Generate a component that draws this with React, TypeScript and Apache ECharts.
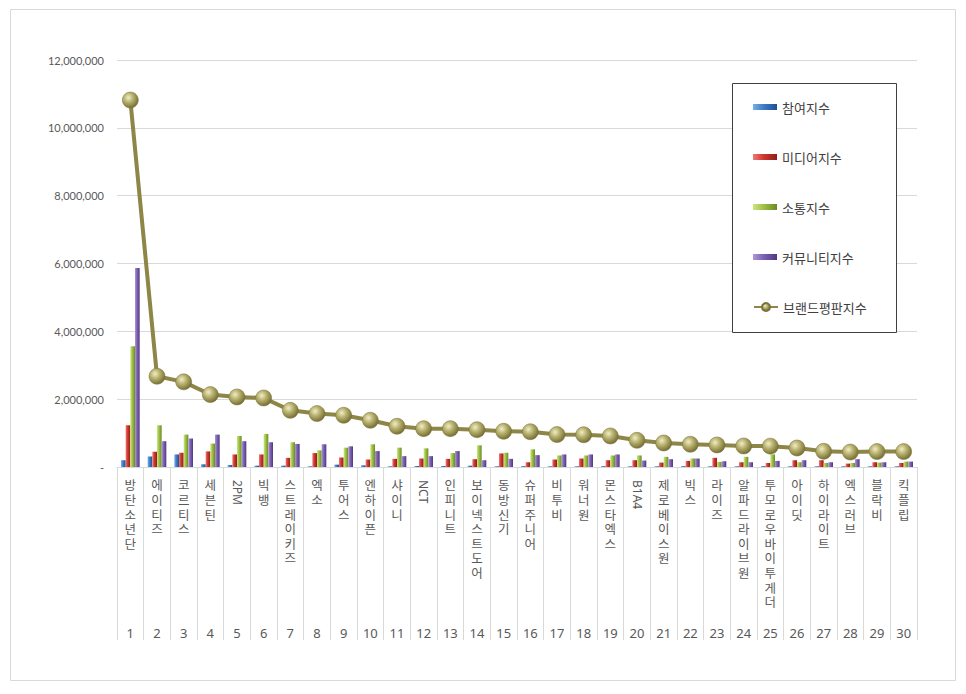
import React, { useEffect, useRef } from "react";
import * as echarts from "echarts";

const names = [
  "방탄소년단", "에이티즈", "코르티스", "세븐틴", "2PM", "빅뱅", "스트레이키즈", "엑소", "투어스", "엔하이픈",
  "샤이니", "NCT", "인피니트", "보이넥스트도어", "동방신기", "슈퍼주니어", "비투비", "워너원", "몬스타엑스", "B1A4",
  "제로베이스원", "빅스", "라이즈", "알파드라이브원", "투모로우바이투게더", "아이딧", "하이라이트", "엑스러브", "블락비", "킥플립",
];

const ranks = [
  "1", "2", "3", "4", "5", "6", "7", "8", "9", "10", "11", "12", "13", "14", "15",
  "16", "17", "18", "19", "20", "21", "22", "23", "24", "25", "26", "27", "28", "29", "30",
];

const participation = [
  200000, 310000, 370000, 80000, 60000, 40000, 40000, 20000, 70000, 50000,
  20000, 30000, 30000, 40000, 20000, 25000, 20000, 20000, 25000, 20000,
  20000, 25000, 20000, 20000, 25000, 20000, 20000, 20000, 20000, 20000,
];

const media = [
  1230000, 450000, 420000, 460000, 370000, 370000, 270000, 410000, 280000, 220000,
  240000, 250000, 240000, 230000, 400000, 140000, 220000, 250000, 200000, 200000,
  130000, 180000, 270000, 140000, 120000, 200000, 200000, 100000, 140000, 120000,
];

const communication = [
  3560000, 1230000, 955000, 690000, 915000, 975000, 730000, 490000, 570000, 670000,
  570000, 550000, 410000, 640000, 420000, 520000, 340000, 340000, 340000, 340000,
  300000, 250000, 150000, 300000, 370000, 140000, 120000, 120000, 130000, 160000,
];

const community = [
  5870000, 760000, 840000, 955000, 760000, 730000, 680000, 670000, 610000, 470000,
  320000, 320000, 470000, 200000, 240000, 350000, 370000, 370000, 370000, 190000,
  230000, 250000, 170000, 140000, 180000, 200000, 140000, 230000, 140000, 160000,
];

const brand = [
  10820000, 2675000, 2510000, 2136000, 2065000, 2035000, 1670000, 1575000, 1525000, 1378000,
  1200000, 1130000, 1130000, 1100000, 1053000, 1040000, 956000, 950000, 915000, 787000,
  708000, 670000, 650000, 620000, 615000, 560000, 463000, 440000, 455000, 455000,
];

const seriesNames = ["참여지수", "미디어지수", "소통지수", "커뮤니티지수", "브랜드평판지수"];

const isLatin = (s: string) => /^[A-Za-z0-9]+$/.test(s);

const hGrad = (a: string, b: string, c: string) =>
  new echarts.graphic.LinearGradient(0, 0, 1, 0, [
    { offset: 0, color: a },
    { offset: 0.45, color: b },
    { offset: 1, color: c },
  ]);

const KR = "'Noto Sans CJK KR', 'Noto Sans', sans-serif";
const KR_COMPACT = "'Liberation Sans', 'Noto Sans CJK KR', sans-serif";

export default function App() {
  const ref = useRef<HTMLDivElement>(null);
  useEffect(() => {
    document.body.style.margin = "0";
    const chart = echarts.init(ref.current!, null, { renderer: "svg" });
    const barCommon = {
      type: "bar" as const,
      xAxisIndex: 0,
      barCategoryGap: "30%",
      barGap: "0%",
      z: 2,
    };
    chart.setOption({
      animation: false,
      backgroundColor: "#ffffff",
      textStyle: { fontFamily: KR },
      grid: { left: 117, right: 49, top: 60, bottom: 227, containLabel: false },
      legend: [
        {
          data: seriesNames.slice(0, 4),
          orient: "vertical",
          left: 753,
          top: 99,
          padding: 0,
          itemWidth: 24,
          itemHeight: 6,
          itemGap: 34,
          icon: "rect",
          textStyle: { fontSize: 13, color: "#404040", lineHeight: 16, fontFamily: KR },
          z: 5,
        },
        {
          data: seriesNames.slice(4),
          orient: "vertical",
          left: 753,
          top: 299,
          padding: 0,
          itemWidth: 24,
          itemHeight: 10,
          textStyle: { fontSize: 13, color: "#404040", lineHeight: 16, fontFamily: KR },
          z: 5,
        },
      ],
      graphic: [
        {
          type: "rect",
          z: 0,
          silent: true,
          shape: { x: 10.5, y: 9.5, width: 945, height: 671 },
          style: { fill: "none", stroke: "#d9d9d9", lineWidth: 1 },
        },
        {
          type: "rect",
          z: 1,
          silent: true,
          shape: { x: 732.5, y: 83.5, width: 164, height: 249 },
          style: { fill: "#ffffff", stroke: "#404040", lineWidth: 1 },
        },
      ],
      xAxis: [
        {
          type: "category",
          data: names,
          position: "bottom",
          axisLine: { show: true, lineStyle: { color: "#d9d9d9", width: 1 } },
          axisTick: { show: true, length: 173, interval: 0, lineStyle: { color: "#d9d9d9" } },
          axisLabel: {
            interval: 0,
            margin: 12,
            fontSize: 12.5,
            lineHeight: 14.6,
            color: "#595959",
            fontFamily: KR_COMPACT,
            verticalAlign: "top",
            formatter: (v: string) => (isLatin(v) ? "" : v.split("").join("\n")),
          },
          splitLine: { show: false },
        },
        {
          type: "category",
          data: names,
          position: "bottom",
          axisLine: { show: false },
          axisTick: { show: false },
          axisLabel: {
            interval: 0,
            rotate: -90,
            margin: 13,
            fontSize: 12,
            color: "#595959",
            fontFamily: "'Noto Sans', sans-serif",
            formatter: (v: string) => (isLatin(v) ? v : ""),
          },
        },
        {
          type: "category",
          data: ranks,
          position: "bottom",
          axisLine: { show: false },
          axisTick: { show: false },
          axisLabel: {
            interval: 0,
            margin: 159,
            fontSize: 13,
            color: "#595959",
            fontFamily: "'Noto Sans', sans-serif",
          },
        },
      ],
      yAxis: {
        type: "value",
        min: 0,
        max: 12000000,
        interval: 2000000,
        axisLine: { show: false },
        axisTick: { show: false },
        splitLine: { lineStyle: { color: "#d9d9d9", width: 1 } },
        axisLabel: {
          margin: 13,
          fontSize: 11,
          color: "#595959",
          fontFamily: "Lato, 'Noto Sans', sans-serif",
          formatter: (v: number) => (v === 0 ? "-" : v.toLocaleString("en-US")),
        },
      },
      series: [
        {
          ...barCommon,
          name: seriesNames[0],
          data: participation,
          itemStyle: { color: hGrad("#79aee6", "#3d7cc6", "#1f4f8f") },
        },
        {
          ...barCommon,
          name: seriesNames[1],
          data: media,
          itemStyle: { color: hGrad("#ee7a74", "#cf3530", "#8f1d1a") },
        },
        {
          ...barCommon,
          name: seriesNames[2],
          data: communication,
          itemStyle: { color: hGrad("#cde680", "#9dc043", "#6a8a25") },
        },
        {
          ...barCommon,
          name: seriesNames[3],
          data: community,
          itemStyle: { color: hGrad("#ad98d6", "#7d61b2", "#4f3882") },
        },
        {
          type: "line",
          name: seriesNames[4],
          xAxisIndex: 0,
          data: brand,
          z: 3,
          symbol: "circle",
          symbolSize: 16,
          lineStyle: { color: "#8d8647", width: 4 },
          itemStyle: {
            color: new echarts.graphic.RadialGradient(0.38, 0.35, 0.7, [
              { offset: 0, color: "#efedc8" },
              { offset: 0.45, color: "#b5ae6a" },
              { offset: 1, color: "#6f6831" },
            ]),
            borderColor: "#7a7338",
            borderWidth: 0.5,
          },
          emphasis: { disabled: true },
        },
      ],
    });
    return () => chart.dispose();
  }, []);
  return <div ref={ref} style={{ width: 966, height: 694 }} />;
}
